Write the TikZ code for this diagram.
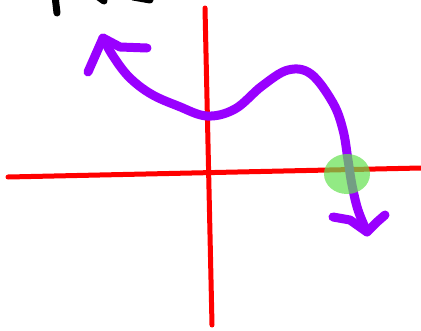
\documentclass[tikz,border=0pt]{standalone}
\usepackage{tikz}
\usetikzlibrary{
    calc
}
\definecolor{axisred}{RGB}{255,0,0}
\definecolor{penpurple}{RGB}{153,0,255}
\definecolor{markgreen}{RGB}{100,225,80}
\tikzset{
    axisline/.style={
        draw=axisred,
        line width=5pt,
        line cap=round
    },
    penline/.style={
        draw=penpurple,
        line width=9pt,
        line cap=round,
        line join=round
    },
    inkline/.style={
        draw=black,
        line width=7pt,
        line cap=round
    },
    highlight/.style={
        fill=markgreen,
        fill opacity=0.7
    }
}

\begin{document}
\begin{tikzpicture}[x=1pt, y=-1pt]
\useasboundingbox (0,0) rectangle (421,330);

% axes
\coordinate (xl) at (8,177);
\coordinate (xr) at (421,168);
\coordinate (yt) at (205,8);
\coordinate (yb) at (212,325);
\draw[axisline] (xl) -- (xr);
\draw[axisline] (yt) -- (yb);

% cut-off writing at the top
\draw[inkline] (55,-4) -- (57,13);
\draw[inkline] (97,-4) -- (104,1);
\draw[inkline] (133,-3) -- (150,0);

% the curve
\coordinate (tipl) at (103,38);
\coordinate (tipr) at (367,232);
\draw[penline] plot[smooth, tension=0.6] coordinates {
    (tipl) (113,56) (129,77) (151,94) (178,106) (207,116) (235,109)
    (262,86) (288,70) (311,74) (333,103) (343,130)
    (348,160) (352,185) (358,210) (tipr)};

% arrow heads
\draw[penline] (88,72) -- (tipl) -- (120,47) -- (147,48);
\draw[penline] (333,217) -- (350,220) -- (tipr) -- (377,222) -- (385,215);

% the root
\fill[highlight] (347,174) ellipse [x radius=23, y radius=20];

\end{tikzpicture}
\end{document}
